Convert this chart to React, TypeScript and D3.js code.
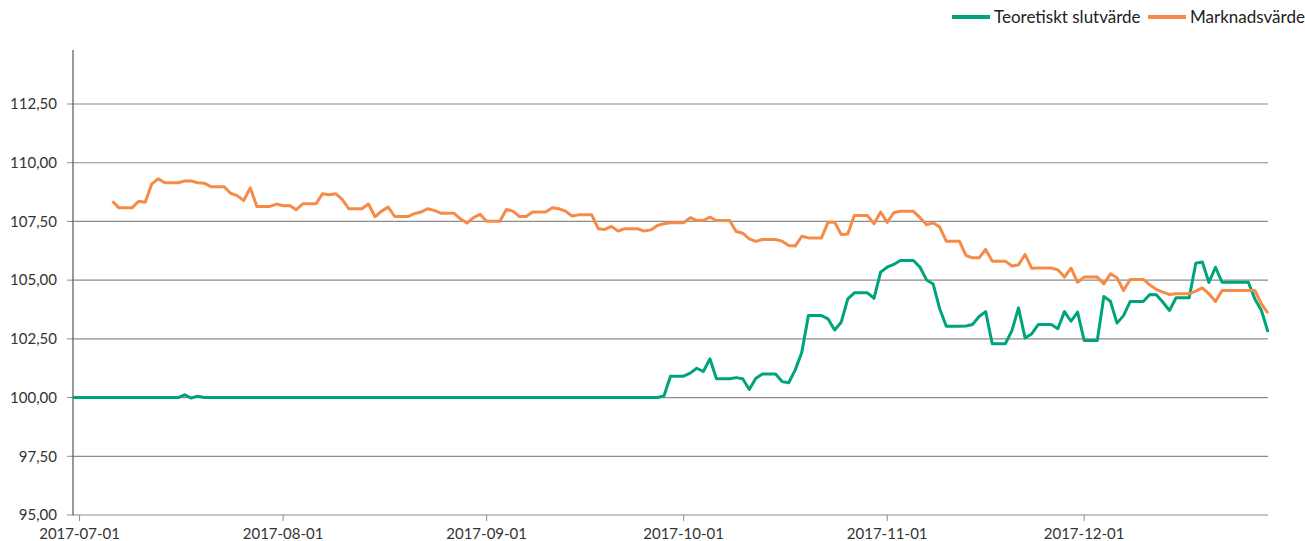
import React from "react";
import * as d3 from "d3";

// daily values, one row per week; weekends/holidays carry the previous close
const greenStart = "2017-06-30";
const orangeStart = "2017-07-06";
const lastDay = "2017-12-29";

const teoretisktSlutvarde = [
  100, 100, 100, // Jun 30 - Jul 2
  100, 100, 100, 100, 100, 100, 100, // Jul 3
  100, 100, 100, 100, 100, 100, 100, // Jul 10
  100.12, 99.98, 100.06, 100, 100, 100, 100, // Jul 17
  100, 100, 100, 100, 100, 100, 100, // Jul 24
  100, 100, 100, 100, 100, 100, 100, // Jul 31
  100, 100, 100, 100, 100, 100, 100, // Aug 7
  100, 100, 100, 100, 100, 100, 100, // Aug 14
  100, 100, 100, 100, 100, 100, 100, // Aug 21
  100, 100, 100, 100, 100, 100, 100, // Aug 28
  100, 100, 100, 100, 100, 100, 100, // Sep 4
  100, 100, 100, 100, 100, 100, 100, // Sep 11
  100, 100, 100, 100, 100, 100, 100, // Sep 18
  100, 100, 100, 100.07, 100.91, 100.91, 100.91, // Sep 25
  101.04, 101.25, 101.11, 101.65, 100.8, 100.8, 100.8, // Oct 2
  100.85, 100.8, 100.34, 100.82, 101.0, 101.0, 101.0, // Oct 9
  100.68, 100.63, 101.18, 101.93, 103.49, 103.49, 103.49, // Oct 16
  103.35, 102.88, 103.21, 104.2, 104.46, 104.46, 104.46, // Oct 23
  104.23, 105.34, 105.55, 105.67, 105.84, 105.84, 105.84, // Oct 30
  105.55, 105.01, 104.84, 103.78, 103.04, 103.04, 103.04, // Nov 6
  103.05, 103.11, 103.45, 103.66, 102.29, 102.29, 102.29, // Nov 13
  102.85, 103.82, 102.54, 102.71, 103.11, 103.11, 103.11, // Nov 20
  102.93, 103.66, 103.25, 103.64, 102.43, 102.43, 102.43, // Nov 27
  104.3, 104.1, 103.17, 103.49, 104.09, 104.09, 104.09, // Dec 4
  104.39, 104.38, 104.06, 103.71, 104.25, 104.25, 104.25, // Dec 11
  105.72, 105.77, 104.9, 105.55, 104.91, 104.91, 104.91, // Dec 18
  104.91, 104.91, 104.2, 103.71, 102.79, // Dec 25 - 29
];

const marknadsvarde = [
  108.36, 108.08, 108.08, 108.08, // Jul 6 - 9
  108.36, 108.32, 109.1, 109.32, 109.15, 109.15, 109.15, // Jul 10
  109.22, 109.22, 109.15, 109.13, 108.98, 108.98, 108.98, // Jul 17
  108.7, 108.6, 108.39, 108.93, 108.14, 108.14, 108.14, // Jul 24
  108.24, 108.17, 108.18, 108.0, 108.25, 108.25, 108.25, // Jul 31
  108.68, 108.64, 108.68, 108.44, 108.04, 108.04, 108.04, // Aug 7
  108.24, 107.7, 107.94, 108.11, 107.71, 107.71, 107.71, // Aug 14
  107.83, 107.9, 108.04, 107.97, 107.85, 107.85, 107.85, // Aug 21
  107.61, 107.43, 107.66, 107.8, 107.51, 107.51, 107.51, // Aug 28
  108.01, 107.94, 107.71, 107.71, 107.9, 107.9, 107.9, // Sep 4
  108.08, 108.04, 107.94, 107.73, 107.78, 107.78, 107.78, // Sep 11
  107.19, 107.16, 107.29, 107.09, 107.19, 107.19, 107.19, // Sep 18
  107.09, 107.14, 107.33, 107.4, 107.44, 107.44, 107.44, // Sep 25
  107.66, 107.54, 107.54, 107.68, 107.54, 107.54, 107.54, // Oct 2
  107.07, 107.0, 106.76, 106.65, 106.73, 106.73, 106.73, // Oct 9
  106.66, 106.48, 106.45, 106.87, 106.8, 106.8, 106.8, // Oct 16
  107.47, 107.47, 106.94, 106.97, 107.75, 107.75, 107.75, // Oct 23
  107.4, 107.9, 107.46, 107.87, 107.93, 107.93, 107.93, // Oct 30
  107.66, 107.36, 107.44, 107.26, 106.66, 106.66, 106.66, // Nov 6
  106.05, 105.95, 105.95, 106.31, 105.81, 105.81, 105.81, // Nov 13
  105.6, 105.65, 106.09, 105.51, 105.52, 105.52, 105.52, // Nov 20
  105.44, 105.13, 105.51, 104.91, 105.13, 105.13, 105.13, // Nov 27
  104.84, 105.27, 105.1, 104.56, 105.03, 105.03, 105.03, // Dec 4
  104.8, 104.6, 104.49, 104.39, 104.42, 104.42, 104.42, // Dec 11
  104.53, 104.67, 104.42, 104.09, 104.56, 104.56, 104.56, // Dec 18
  104.56, 104.56, 104.56, 103.99, 103.59, // Dec 25 - 29
];

const yTicks = [95, 97.5, 100, 102.5, 105, 107.5, 110, 112.5];
const legendLabels = ["Teoretiskt slutvärde", "Marknadsvärde"];
const colors = ["#00a47c", "#f68b48"];

const parse = d3.timeParse("%Y-%m-%d");
const fmtDate = d3.timeFormat("%Y-%m-%d");
const FONT = "Lato, 'Open Sans', sans-serif";

type Pt = { date: Date; value: number };

function toSeries(start: string, values: number[]): Pt[] {
  const s = parse(start)!;
  return values.map((v, i) => ({ date: d3.timeDay.offset(s, i), value: v }));
}

export default function App() {
  const width = 1305;
  const height = 541;
  const left = 73;
  const right = 1268;
  const top = 50;
  const bottom = 515;

  const x = d3
    .scaleTime()
    .domain([parse("2017-06-30")!, parse(lastDay)!])
    .range([left, right]);
  const y = d3.scaleLinear().domain([95, 114.8]).range([bottom, top]);

  const series = [
    toSeries(greenStart, teoretisktSlutvarde),
    toSeries(orangeStart, marknadsvarde),
  ];

  const line = d3
    .line<Pt>()
    .x((d) => x(d.date))
    .y((d) => y(d.value));

  const xTicks = d3.timeMonth.range(parse("2017-07-01")!, parse(lastDay)!);

  return (
    <div style={{ position: "absolute", left: 0, top: 0 }}>
      <svg width={width} height={height} style={{ display: "block" }}>
        <rect width={width} height={height} fill="#fff" />
        {/* grid + y labels */}
        {yTicks.map((t) => (
          <g key={t}>
            <line
              x1={left}
              x2={right}
              y1={y(t)}
              y2={y(t)}
              stroke="#8c8c8c"
              strokeWidth={1.2}
            />
            <line x1={left - 6} x2={left} y1={y(t)} y2={y(t)} stroke="#8c8c8c" />
            <text
              x={left - 16}
              y={y(t)}
              dy="0.35em"
              textAnchor="end"
              fontFamily={FONT}
              fontSize={15}
              fill="#333"
            >
              {t.toFixed(2).replace(".", ",")}
            </text>
          </g>
        ))}
        {/* x axis */}
        {xTicks.map((t) => (
          <g key={t.toISOString()}>
            <line x1={x(t)} x2={x(t)} y1={bottom} y2={bottom + 6} stroke="#8c8c8c" />
            <text
              x={x(t)}
              y={bottom + 24}
              textAnchor="middle"
              fontFamily={FONT}
              fontSize={15}
              fill="#333"
            >
              {fmtDate(t)}
            </text>
          </g>
        ))}
        <line x1={left} x2={left} y1={top} y2={bottom} stroke="#555" strokeWidth={1.2} />
        {/* lines */}
        {series.map((s, i) => (
          <path
            key={i}
            d={line(s) || ""}
            fill="none"
            stroke={colors[i]}
            strokeWidth={3}
            strokeLinejoin="round"
          />
        ))}
        {/* legend */}
        <g fontFamily={FONT} fontSize={17} fill="#222">
          <line x1={952} x2={990} y1={17} y2={17} stroke={colors[0]} strokeWidth={4} />
          <text x={994} y={23}>{legendLabels[0]}</text>
          <line x1={1148} x2={1186} y1={17} y2={17} stroke={colors[1]} strokeWidth={4} />
          <text x={1190} y={23}>{legendLabels[1]}</text>
        </g>
      </svg>
    </div>
  );
}
